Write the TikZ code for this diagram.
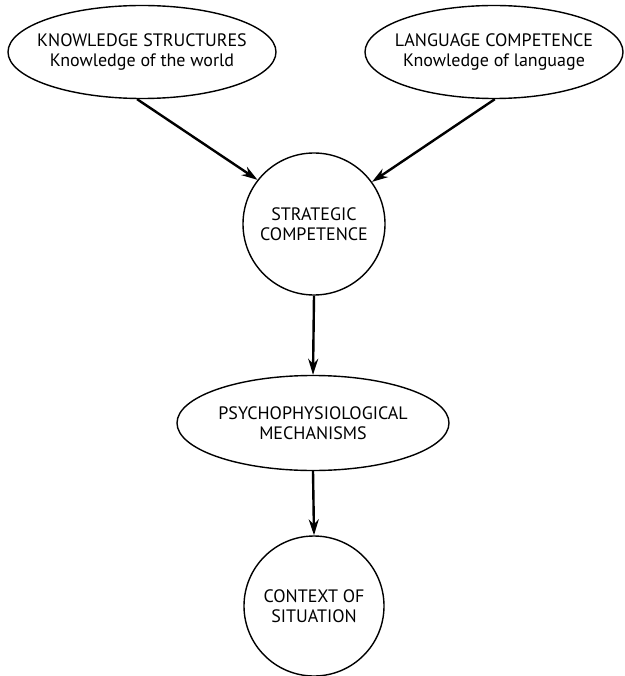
\documentclass[tikz,border=0pt]{standalone}
\usepackage{fontspec}
\setmainfont{PT Sans}
\usetikzlibrary{shapes.geometric, arrows.meta, positioning}

\begin{document}
\begin{tikzpicture}[
  x=1pt, y=-1pt,
  oval/.style={draw, ellipse, line width=1.4pt, inner xsep=-20pt, inner ysep=0pt, align=center, font=\fontsize{18}{20.5}\selectfont},
  disc/.style={draw, circle, line width=1.4pt, inner sep=0pt, align=center, minimum size=142pt, font=\fontsize{18}{20.5}\selectfont},
  link/.style={-{Stealth[length=16pt, width=10pt]}, line width=2.4pt}
]
  \useasboundingbox (0,0) rectangle (624,676);

  % Sources
  \node[oval, minimum width=268pt, minimum height=93pt] (know) at (142,52) {
    KNOWLEDGE STRUCTURES\\
    Knowledge of the world
  };
  \node[oval, minimum width=258pt, minimum height=93pt] (lang) at (494,52) {
    LANGUAGE COMPETENCE\\
    Knowledge of language
  };

  % Middle
  \node[disc] (strat) at (314,224) {STRATEGIC\\COMPETENCE};
  \node[oval, minimum width=272pt, minimum height=95pt] (psych) at (313,423) {
    PSYCHOPHYSIOLOGICAL\\
    MECHANISMS
  };

  % Bottom
  \node[disc, minimum size=140pt] (ctx) at (314,606) {CONTEXT OF\\SITUATION};

  % Arrows
  \draw[link] (know.-96) -- (strat.142);
  \draw[link] (lang.-89) -- (strat.36);
  \draw[link] (strat.south) -- (psych.north);
  \draw[link] (psych.south) -- (ctx.north);
\end{tikzpicture}
\end{document}
